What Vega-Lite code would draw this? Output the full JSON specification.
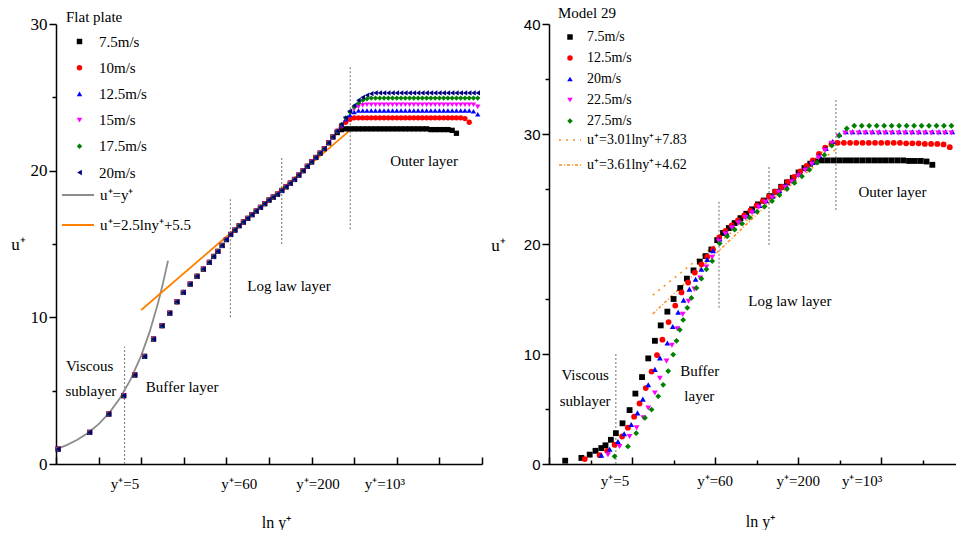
{
"$schema":"https://vega.github.io/schema/vega-lite/v6.json",
"background":"white",
"padding":{"left":10,"top":6,"right":0,"bottom":0},
"bounds":"flush",
"spacing":67,
"config":{
 "view":{"stroke":null},
 "axis":{"grid":false,"domainColor":"black","tickColor":"black","domainWidth":1.5,"tickWidth":1.5,"labelFont":"Liberation Serif","titleFont":"Liberation Serif","labelColor":"black","titleColor":"black","titleFontWeight":"normal"},
 "legend":{"titleFont":"Liberation Serif","titleFontWeight":"normal","titleColor":"black","labelFont":"Liberation Serif","labelColor":"black","padding":0,"offset":0},
 "text":{"font":"Liberation Serif","fontSize":15,"color":"black"}
},
"resolve":{"scale":{"color":"independent","shape":"independent","stroke":"independent","strokeDash":"independent","x":"independent","y":"independent"},"legend":{"color":"independent","shape":"independent","stroke":"independent","strokeDash":"independent"}},
"datasets":{
"rulesL":[{"x":1.609,"a":0,"b":8},{"x":4.094,"a":10,"b":18.06},{"x":5.298,"a":15,"b":21},{"x":6.908,"a":16,"b":27.1}],
"linesL":[
{"name":"u⁺=y⁺","x":0,"u":1},{"name":"u⁺=y⁺","x":0.25,"u":1.284},{"name":"u⁺=y⁺","x":0.5,"u":1.649},{"name":"u⁺=y⁺","x":0.75,"u":2.117},{"name":"u⁺=y⁺","x":1.0,"u":2.718},{"name":"u⁺=y⁺","x":1.25,"u":3.49},{"name":"u⁺=y⁺","x":1.5,"u":4.482},{"name":"u⁺=y⁺","x":1.75,"u":5.755},{"name":"u⁺=y⁺","x":2.0,"u":7.389},{"name":"u⁺=y⁺","x":2.2,"u":9.025},{"name":"u⁺=y⁺","x":2.4,"u":11.023},{"name":"u⁺=y⁺","x":2.5,"u":12.182},{"name":"u⁺=y⁺","x":2.63,"u":13.87},
{"name":"u⁺=2.5lny⁺+5.5","x":2.0,"u":10.5},{"name":"u⁺=2.5lny⁺+5.5","x":7.0,"u":23.0}],
"textL":[{"x":0.79,"u":6.68,"t":"Viscous"},{"x":0.82,"u":4.98,"t":"sublayer"},{"x":2.96,"u":5.25,"t":"Buffer layer"},{"x":5.47,"u":12.13,"t":"Log law layer"},{"x":8.64,"u":20.65,"t":"Outer layer"},{"x":1.62,"u":-1.36,"t":"y⁺=5"},{"x":4.3,"u":-1.36,"t":"y⁺=60"},{"x":6.15,"u":-1.36,"t":"y⁺=200"},{"x":7.72,"u":-1.36,"t":"y⁺=10³"}],
"ptsL":[
{"s":7.5,"x":0.05,"u":1.02},{"s":7.5,"x":0.79,"u":2.16},{"s":7.5,"x":1.24,"u":3.41},{"s":7.5,"x":1.59,"u":4.66},{"s":7.5,"x":1.85,"u":6.07},{"s":7.5,"x":2.08,"u":7.34},{"s":7.5,"x":2.29,"u":8.52},{"s":7.5,"x":2.49,"u":9.43},{"s":7.5,"x":2.67,"u":10.29},{"s":7.5,"x":2.84,"u":11.06},{"s":7.5,"x":2.99,"u":11.7},{"s":7.5,"x":3.15,"u":12.27},{"s":7.5,"x":3.31,"u":12.8},{"s":7.5,"x":3.46,"u":13.29},{"s":7.5,"x":3.6,"u":13.75},{"s":7.5,"x":3.7,"u":14.15},{"s":7.5,"x":3.8,"u":14.5},{"s":7.5,"x":3.9,"u":14.9},{"s":7.5,"x":4.0,"u":15.3},{"s":7.5,"x":4.1,"u":15.65},{"s":7.5,"x":4.2,"u":15.95},{"s":7.5,"x":4.3,"u":16.25},{"s":7.5,"x":4.4,"u":16.5},{"s":7.5,"x":4.5,"u":16.75},{"s":7.5,"x":4.6,"u":17.0},{"s":7.5,"x":4.7,"u":17.25},{"s":7.5,"x":4.8,"u":17.5},{"s":7.5,"x":4.9,"u":17.75},{"s":7.5,"x":5.0,"u":18.0},{"s":7.5,"x":5.1,"u":18.2},{"s":7.5,"x":5.2,"u":18.4},{"s":7.5,"x":5.3,"u":18.65},{"s":7.5,"x":5.4,"u":18.9},{"s":7.5,"x":5.5,"u":19.15},{"s":7.5,"x":5.6,"u":19.4},{"s":7.5,"x":5.7,"u":19.7},{"s":7.5,"x":5.8,"u":20.0},{"s":7.5,"x":5.9,"u":20.3},{"s":7.5,"x":6.0,"u":20.6},{"s":7.5,"x":6.1,"u":20.9},{"s":7.5,"x":6.2,"u":21.2},{"s":7.5,"x":6.3,"u":21.5},{"s":7.5,"x":6.4,"u":21.9},{"s":7.5,"x":6.5,"u":22.3},
{"s":7.5,"x":6.6,"u":22.6},{"s":7.5,"x":6.7,"u":22.8},{"s":7.5,"x":6.8,"u":22.85},{"s":7.5,"x":6.9,"u":22.85},{"s":7.5,"x":7.0,"u":22.85},{"s":7.5,"x":7.1,"u":22.85},{"s":7.5,"x":7.2,"u":22.85},{"s":7.5,"x":7.3,"u":22.85},{"s":7.5,"x":7.4,"u":22.85},{"s":7.5,"x":7.5,"u":22.85},{"s":7.5,"x":7.6,"u":22.85},{"s":7.5,"x":7.7,"u":22.85},{"s":7.5,"x":7.8,"u":22.85},{"s":7.5,"x":7.9,"u":22.85},{"s":7.5,"x":8.0,"u":22.85},{"s":7.5,"x":8.1,"u":22.85},{"s":7.5,"x":8.2,"u":22.85},{"s":7.5,"x":8.3,"u":22.85},{"s":7.5,"x":8.4,"u":22.85},{"s":7.5,"x":8.5,"u":22.85},{"s":7.5,"x":8.6,"u":22.85},{"s":7.5,"x":8.7,"u":22.85},{"s":7.5,"x":8.8,"u":22.8},{"s":7.5,"x":8.9,"u":22.8},{"s":7.5,"x":9.0,"u":22.8},{"s":7.5,"x":9.1,"u":22.8},{"s":7.5,"x":9.2,"u":22.8},{"s":7.5,"x":9.3,"u":22.75},{"s":7.5,"x":9.4,"u":22.55},
{"s":10,"x":0.05,"u":1.02},{"s":10,"x":0.79,"u":2.16},{"s":10,"x":1.24,"u":3.41},{"s":10,"x":1.59,"u":4.66},{"s":10,"x":1.85,"u":6.07},{"s":10,"x":2.08,"u":7.34},{"s":10,"x":2.29,"u":8.52},{"s":10,"x":2.49,"u":9.43},{"s":10,"x":2.67,"u":10.29},{"s":10,"x":2.84,"u":11.06},{"s":10,"x":2.99,"u":11.7},{"s":10,"x":3.15,"u":12.27},{"s":10,"x":3.31,"u":12.8},{"s":10,"x":3.46,"u":13.29},{"s":10,"x":3.6,"u":13.75},{"s":10,"x":3.7,"u":14.15},{"s":10,"x":3.8,"u":14.5},{"s":10,"x":3.9,"u":14.9},{"s":10,"x":4.0,"u":15.3},{"s":10,"x":4.1,"u":15.65},{"s":10,"x":4.2,"u":15.95},{"s":10,"x":4.3,"u":16.25},{"s":10,"x":4.4,"u":16.5},{"s":10,"x":4.5,"u":16.75},{"s":10,"x":4.6,"u":17.0},{"s":10,"x":4.7,"u":17.25},{"s":10,"x":4.8,"u":17.5},{"s":10,"x":4.9,"u":17.75},{"s":10,"x":5.0,"u":18.0},{"s":10,"x":5.1,"u":18.2},{"s":10,"x":5.2,"u":18.4},{"s":10,"x":5.3,"u":18.65},{"s":10,"x":5.4,"u":18.9},{"s":10,"x":5.5,"u":19.15},{"s":10,"x":5.6,"u":19.4},{"s":10,"x":5.7,"u":19.7},{"s":10,"x":5.8,"u":20.0},{"s":10,"x":5.9,"u":20.3},{"s":10,"x":6.0,"u":20.6},{"s":10,"x":6.1,"u":20.9},{"s":10,"x":6.2,"u":21.2},{"s":10,"x":6.3,"u":21.5},{"s":10,"x":6.4,"u":21.9},{"s":10,"x":6.5,"u":22.3},
{"s":10,"x":6.6,"u":22.7},{"s":10,"x":6.7,"u":23.05},{"s":10,"x":6.8,"u":23.3},{"s":10,"x":6.9,"u":23.5},{"s":10,"x":7.0,"u":23.6},{"s":10,"x":7.1,"u":23.6},{"s":10,"x":7.2,"u":23.6},{"s":10,"x":7.3,"u":23.6},{"s":10,"x":7.4,"u":23.6},{"s":10,"x":7.5,"u":23.6},{"s":10,"x":7.6,"u":23.6},{"s":10,"x":7.7,"u":23.6},{"s":10,"x":7.8,"u":23.6},{"s":10,"x":7.9,"u":23.6},{"s":10,"x":8.0,"u":23.6},{"s":10,"x":8.1,"u":23.6},{"s":10,"x":8.2,"u":23.6},{"s":10,"x":8.3,"u":23.6},{"s":10,"x":8.4,"u":23.6},{"s":10,"x":8.5,"u":23.6},{"s":10,"x":8.6,"u":23.6},{"s":10,"x":8.7,"u":23.6},{"s":10,"x":8.8,"u":23.6},{"s":10,"x":8.9,"u":23.6},{"s":10,"x":9.0,"u":23.6},{"s":10,"x":9.1,"u":23.6},{"s":10,"x":9.2,"u":23.6},{"s":10,"x":9.3,"u":23.6},{"s":10,"x":9.4,"u":23.6},{"s":10,"x":9.5,"u":23.6},{"s":10,"x":9.6,"u":23.55},{"s":10,"x":9.7,"u":23.3},
{"s":12.5,"x":0.05,"u":1.02},{"s":12.5,"x":0.79,"u":2.16},{"s":12.5,"x":1.24,"u":3.41},{"s":12.5,"x":1.59,"u":4.66},{"s":12.5,"x":1.85,"u":6.07},{"s":12.5,"x":2.08,"u":7.34},{"s":12.5,"x":2.29,"u":8.52},{"s":12.5,"x":2.49,"u":9.43},{"s":12.5,"x":2.67,"u":10.29},{"s":12.5,"x":2.84,"u":11.06},{"s":12.5,"x":2.99,"u":11.7},{"s":12.5,"x":3.15,"u":12.27},{"s":12.5,"x":3.31,"u":12.8},{"s":12.5,"x":3.46,"u":13.29},{"s":12.5,"x":3.6,"u":13.75},{"s":12.5,"x":3.7,"u":14.15},{"s":12.5,"x":3.8,"u":14.5},{"s":12.5,"x":3.9,"u":14.9},{"s":12.5,"x":4.0,"u":15.3},{"s":12.5,"x":4.1,"u":15.65},{"s":12.5,"x":4.2,"u":15.95},{"s":12.5,"x":4.3,"u":16.25},{"s":12.5,"x":4.4,"u":16.5},{"s":12.5,"x":4.5,"u":16.75},{"s":12.5,"x":4.6,"u":17.0},{"s":12.5,"x":4.7,"u":17.25},{"s":12.5,"x":4.8,"u":17.5},{"s":12.5,"x":4.9,"u":17.75},{"s":12.5,"x":5.0,"u":18.0},{"s":12.5,"x":5.1,"u":18.2},{"s":12.5,"x":5.2,"u":18.4},{"s":12.5,"x":5.3,"u":18.65},{"s":12.5,"x":5.4,"u":18.9},{"s":12.5,"x":5.5,"u":19.15},{"s":12.5,"x":5.6,"u":19.4},{"s":12.5,"x":5.7,"u":19.7},{"s":12.5,"x":5.8,"u":20.0},{"s":12.5,"x":5.9,"u":20.3},{"s":12.5,"x":6.0,"u":20.6},{"s":12.5,"x":6.1,"u":20.9},{"s":12.5,"x":6.2,"u":21.2},{"s":12.5,"x":6.3,"u":21.5},{"s":12.5,"x":6.4,"u":21.9},{"s":12.5,"x":6.5,"u":22.3},
{"s":12.5,"x":6.6,"u":22.7},{"s":12.5,"x":6.7,"u":23.1},{"s":12.5,"x":6.8,"u":23.5},{"s":12.5,"x":6.9,"u":23.8},{"s":12.5,"x":7.0,"u":24.0},{"s":12.5,"x":7.1,"u":24.1},{"s":12.5,"x":7.2,"u":24.1},{"s":12.5,"x":7.3,"u":24.1},{"s":12.5,"x":7.4,"u":24.1},{"s":12.5,"x":7.5,"u":24.1},{"s":12.5,"x":7.6,"u":24.1},{"s":12.5,"x":7.7,"u":24.1},{"s":12.5,"x":7.8,"u":24.1},{"s":12.5,"x":7.9,"u":24.1},{"s":12.5,"x":8.0,"u":24.1},{"s":12.5,"x":8.1,"u":24.1},{"s":12.5,"x":8.2,"u":24.1},{"s":12.5,"x":8.3,"u":24.1},{"s":12.5,"x":8.4,"u":24.1},{"s":12.5,"x":8.5,"u":24.1},{"s":12.5,"x":8.6,"u":24.1},{"s":12.5,"x":8.7,"u":24.1},{"s":12.5,"x":8.8,"u":24.1},{"s":12.5,"x":8.9,"u":24.1},{"s":12.5,"x":9.0,"u":24.1},{"s":12.5,"x":9.1,"u":24.1},{"s":12.5,"x":9.2,"u":24.1},{"s":12.5,"x":9.3,"u":24.1},{"s":12.5,"x":9.4,"u":24.1},{"s":12.5,"x":9.5,"u":24.1},{"s":12.5,"x":9.6,"u":24.1},{"s":12.5,"x":9.7,"u":24.1},{"s":12.5,"x":9.8,"u":24.05},{"s":12.5,"x":9.9,"u":23.85},
{"s":15,"x":0.05,"u":1.02},{"s":15,"x":0.79,"u":2.16},{"s":15,"x":1.24,"u":3.41},{"s":15,"x":1.59,"u":4.66},{"s":15,"x":1.85,"u":6.07},{"s":15,"x":2.08,"u":7.34},{"s":15,"x":2.29,"u":8.52},{"s":15,"x":2.49,"u":9.43},{"s":15,"x":2.67,"u":10.29},{"s":15,"x":2.84,"u":11.06},{"s":15,"x":2.99,"u":11.7},{"s":15,"x":3.15,"u":12.27},{"s":15,"x":3.31,"u":12.8},{"s":15,"x":3.46,"u":13.29},{"s":15,"x":3.6,"u":13.75},{"s":15,"x":3.7,"u":14.15},{"s":15,"x":3.8,"u":14.5},{"s":15,"x":3.9,"u":14.9},{"s":15,"x":4.0,"u":15.3},{"s":15,"x":4.1,"u":15.65},{"s":15,"x":4.2,"u":15.95},{"s":15,"x":4.3,"u":16.25},{"s":15,"x":4.4,"u":16.5},{"s":15,"x":4.5,"u":16.75},{"s":15,"x":4.6,"u":17.0},{"s":15,"x":4.7,"u":17.25},{"s":15,"x":4.8,"u":17.5},{"s":15,"x":4.9,"u":17.75},{"s":15,"x":5.0,"u":18.0},{"s":15,"x":5.1,"u":18.2},{"s":15,"x":5.2,"u":18.4},{"s":15,"x":5.3,"u":18.65},{"s":15,"x":5.4,"u":18.9},{"s":15,"x":5.5,"u":19.15},{"s":15,"x":5.6,"u":19.4},{"s":15,"x":5.7,"u":19.7},{"s":15,"x":5.8,"u":20.0},{"s":15,"x":5.9,"u":20.3},{"s":15,"x":6.0,"u":20.6},{"s":15,"x":6.1,"u":20.9},{"s":15,"x":6.2,"u":21.2},{"s":15,"x":6.3,"u":21.5},{"s":15,"x":6.4,"u":21.9},{"s":15,"x":6.5,"u":22.3},
{"s":15,"x":6.6,"u":22.7},{"s":15,"x":6.7,"u":23.1},{"s":15,"x":6.8,"u":23.55},{"s":15,"x":6.9,"u":23.95},{"s":15,"x":7.0,"u":24.2},{"s":15,"x":7.1,"u":24.35},{"s":15,"x":7.2,"u":24.45},{"s":15,"x":7.3,"u":24.5},{"s":15,"x":7.4,"u":24.5},{"s":15,"x":7.5,"u":24.5},{"s":15,"x":7.6,"u":24.5},{"s":15,"x":7.7,"u":24.5},{"s":15,"x":7.8,"u":24.5},{"s":15,"x":7.9,"u":24.5},{"s":15,"x":8.0,"u":24.5},{"s":15,"x":8.1,"u":24.5},{"s":15,"x":8.2,"u":24.5},{"s":15,"x":8.3,"u":24.5},{"s":15,"x":8.4,"u":24.5},{"s":15,"x":8.5,"u":24.5},{"s":15,"x":8.6,"u":24.5},{"s":15,"x":8.7,"u":24.5},{"s":15,"x":8.8,"u":24.5},{"s":15,"x":8.9,"u":24.5},{"s":15,"x":9.0,"u":24.5},{"s":15,"x":9.1,"u":24.5},{"s":15,"x":9.2,"u":24.5},{"s":15,"x":9.3,"u":24.5},{"s":15,"x":9.4,"u":24.5},{"s":15,"x":9.5,"u":24.5},{"s":15,"x":9.6,"u":24.5},{"s":15,"x":9.7,"u":24.5},{"s":15,"x":9.8,"u":24.5},{"s":15,"x":9.9,"u":24.35},
{"s":17.5,"x":0.05,"u":1.02},{"s":17.5,"x":0.79,"u":2.16},{"s":17.5,"x":1.24,"u":3.41},{"s":17.5,"x":1.59,"u":4.66},{"s":17.5,"x":1.85,"u":6.07},{"s":17.5,"x":2.08,"u":7.34},{"s":17.5,"x":2.29,"u":8.52},{"s":17.5,"x":2.49,"u":9.43},{"s":17.5,"x":2.67,"u":10.29},{"s":17.5,"x":2.84,"u":11.06},{"s":17.5,"x":2.99,"u":11.7},{"s":17.5,"x":3.15,"u":12.27},{"s":17.5,"x":3.31,"u":12.8},{"s":17.5,"x":3.46,"u":13.29},{"s":17.5,"x":3.6,"u":13.75},{"s":17.5,"x":3.7,"u":14.15},{"s":17.5,"x":3.8,"u":14.5},{"s":17.5,"x":3.9,"u":14.9},{"s":17.5,"x":4.0,"u":15.3},{"s":17.5,"x":4.1,"u":15.65},{"s":17.5,"x":4.2,"u":15.95},{"s":17.5,"x":4.3,"u":16.25},{"s":17.5,"x":4.4,"u":16.5},{"s":17.5,"x":4.5,"u":16.75},{"s":17.5,"x":4.6,"u":17.0},{"s":17.5,"x":4.7,"u":17.25},{"s":17.5,"x":4.8,"u":17.5},{"s":17.5,"x":4.9,"u":17.75},{"s":17.5,"x":5.0,"u":18.0},{"s":17.5,"x":5.1,"u":18.2},{"s":17.5,"x":5.2,"u":18.4},{"s":17.5,"x":5.3,"u":18.65},{"s":17.5,"x":5.4,"u":18.9},{"s":17.5,"x":5.5,"u":19.15},{"s":17.5,"x":5.6,"u":19.4},{"s":17.5,"x":5.7,"u":19.7},{"s":17.5,"x":5.8,"u":20.0},{"s":17.5,"x":5.9,"u":20.3},{"s":17.5,"x":6.0,"u":20.6},{"s":17.5,"x":6.1,"u":20.9},{"s":17.5,"x":6.2,"u":21.2},{"s":17.5,"x":6.3,"u":21.5},{"s":17.5,"x":6.4,"u":21.9},{"s":17.5,"x":6.5,"u":22.3},
{"s":17.5,"x":6.6,"u":22.7},{"s":17.5,"x":6.7,"u":23.15},{"s":17.5,"x":6.8,"u":23.6},{"s":17.5,"x":6.9,"u":24.0},{"s":17.5,"x":7.0,"u":24.35},{"s":17.5,"x":7.1,"u":24.6},{"s":17.5,"x":7.2,"u":24.8},{"s":17.5,"x":7.3,"u":24.9},{"s":17.5,"x":7.4,"u":24.95},{"s":17.5,"x":7.5,"u":24.95},{"s":17.5,"x":7.6,"u":24.95},{"s":17.5,"x":7.7,"u":24.95},{"s":17.5,"x":7.8,"u":24.95},{"s":17.5,"x":7.9,"u":24.95},{"s":17.5,"x":8.0,"u":24.95},{"s":17.5,"x":8.1,"u":24.95},{"s":17.5,"x":8.2,"u":24.95},{"s":17.5,"x":8.3,"u":24.95},{"s":17.5,"x":8.4,"u":24.95},{"s":17.5,"x":8.5,"u":24.95},{"s":17.5,"x":8.6,"u":24.95},{"s":17.5,"x":8.7,"u":24.95},{"s":17.5,"x":8.8,"u":24.95},{"s":17.5,"x":8.9,"u":24.95},{"s":17.5,"x":9.0,"u":24.95},{"s":17.5,"x":9.1,"u":24.95},{"s":17.5,"x":9.2,"u":24.95},{"s":17.5,"x":9.3,"u":24.95},{"s":17.5,"x":9.4,"u":24.95},{"s":17.5,"x":9.5,"u":24.95},{"s":17.5,"x":9.6,"u":24.95},{"s":17.5,"x":9.7,"u":24.95},{"s":17.5,"x":9.8,"u":24.95},{"s":17.5,"x":9.9,"u":24.95},
{"s":20,"x":0.05,"u":1.02},{"s":20,"x":0.79,"u":2.16},{"s":20,"x":1.24,"u":3.41},{"s":20,"x":1.59,"u":4.66},{"s":20,"x":1.85,"u":6.07},{"s":20,"x":2.08,"u":7.34},{"s":20,"x":2.29,"u":8.52},{"s":20,"x":2.49,"u":9.43},{"s":20,"x":2.67,"u":10.29},{"s":20,"x":2.84,"u":11.06},{"s":20,"x":2.99,"u":11.7},{"s":20,"x":3.15,"u":12.27},{"s":20,"x":3.31,"u":12.8},{"s":20,"x":3.46,"u":13.29},{"s":20,"x":3.6,"u":13.75},{"s":20,"x":3.7,"u":14.15},{"s":20,"x":3.8,"u":14.5},{"s":20,"x":3.9,"u":14.9},{"s":20,"x":4.0,"u":15.3},{"s":20,"x":4.1,"u":15.65},{"s":20,"x":4.2,"u":15.95},{"s":20,"x":4.3,"u":16.25},{"s":20,"x":4.4,"u":16.5},{"s":20,"x":4.5,"u":16.75},{"s":20,"x":4.6,"u":17.0},{"s":20,"x":4.7,"u":17.25},{"s":20,"x":4.8,"u":17.5},{"s":20,"x":4.9,"u":17.75},{"s":20,"x":5.0,"u":18.0},{"s":20,"x":5.1,"u":18.2},{"s":20,"x":5.2,"u":18.4},{"s":20,"x":5.3,"u":18.65},{"s":20,"x":5.4,"u":18.9},{"s":20,"x":5.5,"u":19.15},{"s":20,"x":5.6,"u":19.4},{"s":20,"x":5.7,"u":19.7},{"s":20,"x":5.8,"u":20.0},{"s":20,"x":5.9,"u":20.3},{"s":20,"x":6.0,"u":20.6},{"s":20,"x":6.1,"u":20.9},{"s":20,"x":6.2,"u":21.2},{"s":20,"x":6.3,"u":21.5},{"s":20,"x":6.4,"u":21.9},{"s":20,"x":6.5,"u":22.3},
{"s":20,"x":6.6,"u":22.7},{"s":20,"x":6.7,"u":23.15},{"s":20,"x":6.8,"u":23.6},{"s":20,"x":6.9,"u":24.05},{"s":20,"x":7.0,"u":24.45},{"s":20,"x":7.1,"u":24.8},{"s":20,"x":7.2,"u":25.0},{"s":20,"x":7.3,"u":25.15},{"s":20,"x":7.4,"u":25.25},{"s":20,"x":7.5,"u":25.3},{"s":20,"x":7.6,"u":25.3},{"s":20,"x":7.7,"u":25.3},{"s":20,"x":7.8,"u":25.3},{"s":20,"x":7.9,"u":25.3},{"s":20,"x":8.0,"u":25.3},{"s":20,"x":8.1,"u":25.3},{"s":20,"x":8.2,"u":25.3},{"s":20,"x":8.3,"u":25.3},{"s":20,"x":8.4,"u":25.3},{"s":20,"x":8.5,"u":25.3},{"s":20,"x":8.6,"u":25.3},{"s":20,"x":8.7,"u":25.3},{"s":20,"x":8.8,"u":25.3},{"s":20,"x":8.9,"u":25.3},{"s":20,"x":9.0,"u":25.3},{"s":20,"x":9.1,"u":25.3},{"s":20,"x":9.2,"u":25.3},{"s":20,"x":9.3,"u":25.3},{"s":20,"x":9.4,"u":25.3},{"s":20,"x":9.5,"u":25.3},{"s":20,"x":9.6,"u":25.3},{"s":20,"x":9.7,"u":25.3},{"s":20,"x":9.8,"u":25.3},{"s":20,"x":9.9,"u":25.3}],
"rulesR":[{"x":1.609,"a":0,"b":10.1},{"x":4.094,"a":14.2,"b":24},{"x":5.298,"a":19.9,"b":27},{"x":6.908,"a":23.1,"b":33.1}],
"linesR":[{"name":"u⁺=3.01lny⁺+7.83","x":2.5,"u":15.36},{"name":"u⁺=3.01lny⁺+7.83","x":6.9,"u":28.6},{"name":"u⁺=3.61lny⁺+4.62","x":2.5,"u":13.65},{"name":"u⁺=3.61lny⁺+4.62","x":6.9,"u":29.53}],
"textR":[{"x":0.87,"u":8.1,"t":"Viscous"},{"x":0.87,"u":5.74,"t":"sublayer"},{"x":3.63,"u":8.45,"t":"Buffer"},{"x":3.62,"u":6.2,"t":"layer"},{"x":5.8,"u":14.85,"t":"Log law layer"},{"x":8.27,"u":24.7,"t":"Outer layer"},{"x":1.59,"u":-1.55,"t":"y⁺=5"},{"x":4.0,"u":-1.55,"t":"y⁺=60"},{"x":6.0,"u":-1.55,"t":"y⁺=200"},{"x":7.54,"u":-1.55,"t":"y⁺=10³"}],
"ptsR":[
{"s":7.5,"x":0.39,"u":0.3},{"s":7.5,"x":0.78,"u":0.55},{"s":7.5,"x":0.98,"u":0.85},{"s":7.5,"x":1.12,"u":1.2},{"s":7.5,"x":1.26,"u":1.45},{"s":7.5,"x":1.36,"u":1.7},{"s":7.5,"x":1.49,"u":2.2},{"s":7.5,"x":1.61,"u":2.8},{"s":7.5,"x":1.77,"u":3.7},{"s":7.5,"x":1.94,"u":4.9},{"s":7.5,"x":2.08,"u":6.4},{"s":7.5,"x":2.24,"u":7.9},{"s":7.5,"x":2.39,"u":9.6},{"s":7.5,"x":2.55,"u":11.2},{"s":7.5,"x":2.69,"u":12.6},{"s":7.5,"x":2.85,"u":13.85},{"s":7.5,"x":3.0,"u":15.0},{"s":7.5,"x":3.16,"u":16.0},{"s":7.5,"x":3.32,"u":16.85},{"s":7.5,"x":3.48,"u":17.6},{"s":7.5,"x":3.63,"u":18.4},{"s":7.5,"x":3.77,"u":18.9},{"s":7.5,"x":3.91,"u":19.5},{"s":7.5,"x":4.05,"u":20.35},{"s":7.5,"x":4.19,"u":21.0},{"s":7.5,"x":4.33,"u":21.45},{"s":7.5,"x":4.47,"u":21.9},{"s":7.5,"x":4.61,"u":22.35},{"s":7.5,"x":4.75,"u":22.75},{"s":7.5,"x":4.89,"u":23.15},{"s":7.5,"x":5.03,"u":23.6},{"s":7.5,"x":5.17,"u":23.95},{"s":7.5,"x":5.31,"u":24.35},{"s":7.5,"x":5.45,"u":24.75},{"s":7.5,"x":5.59,"u":25.2},{"s":7.5,"x":5.73,"u":25.6},{"s":7.5,"x":5.87,"u":26.0},{"s":7.5,"x":6.01,"u":26.5},{"s":7.5,"x":6.15,"u":26.9},{"s":7.5,"x":6.29,"u":27.3},{"s":7.5,"x":6.43,"u":27.5},{"s":7.5,"x":6.57,"u":27.6},{"s":7.5,"x":6.71,"u":27.6},{"s":7.5,"x":6.85,"u":27.6},{"s":7.5,"x":6.99,"u":27.6},{"s":7.5,"x":7.13,"u":27.6},{"s":7.5,"x":7.27,"u":27.6},{"s":7.5,"x":7.41,"u":27.6},{"s":7.5,"x":7.55,"u":27.6},{"s":7.5,"x":7.69,"u":27.6},{"s":7.5,"x":7.83,"u":27.6},{"s":7.5,"x":7.97,"u":27.6},{"s":7.5,"x":8.11,"u":27.6},{"s":7.5,"x":8.25,"u":27.6},{"s":7.5,"x":8.39,"u":27.6},{"s":7.5,"x":8.53,"u":27.6},{"s":7.5,"x":8.67,"u":27.55},{"s":7.5,"x":8.81,"u":27.55},{"s":7.5,"x":8.95,"u":27.55},{"s":7.5,"x":9.09,"u":27.5},{"s":7.5,"x":9.23,"u":27.2},
{"s":12.5,"x":0.86,"u":0.45},{"s":12.5,"x":1.22,"u":0.8},{"s":12.5,"x":1.4,"u":1.2},{"s":12.5,"x":1.58,"u":1.75},{"s":12.5,"x":1.76,"u":2.5},{"s":12.5,"x":1.9,"u":3.3},{"s":12.5,"x":2.05,"u":4.3},{"s":12.5,"x":2.18,"u":5.5},{"s":12.5,"x":2.33,"u":6.9},{"s":12.5,"x":2.47,"u":8.4},{"s":12.5,"x":2.6,"u":9.9},{"s":12.5,"x":2.73,"u":11.3},{"s":12.5,"x":2.88,"u":12.9},{"s":12.5,"x":3.04,"u":14.4},{"s":12.5,"x":3.19,"u":15.6},{"s":12.5,"x":3.35,"u":16.5},{"s":12.5,"x":3.51,"u":17.4},{"s":12.5,"x":3.67,"u":18.15},{"s":12.5,"x":3.81,"u":18.85},{"s":12.5,"x":3.95,"u":19.5},{"s":12.5,"x":4.1,"u":20.6},{"s":12.5,"x":4.25,"u":21.2},{"s":12.5,"x":4.4,"u":21.7},{"s":12.5,"x":4.55,"u":22.15},{"s":12.5,"x":4.7,"u":22.6},{"s":12.5,"x":4.85,"u":23.05},{"s":12.5,"x":5.0,"u":23.5},{"s":12.5,"x":5.15,"u":23.9},{"s":12.5,"x":5.3,"u":24.3},{"s":12.5,"x":5.45,"u":24.75},{"s":12.5,"x":5.6,"u":25.2},{"s":12.5,"x":5.75,"u":25.65},{"s":12.5,"x":5.9,"u":26.1},{"s":12.5,"x":6.05,"u":26.6},{"s":12.5,"x":6.2,"u":27.1},{"s":12.5,"x":6.35,"u":27.6},{"s":12.5,"x":6.5,"u":28.2},{"s":12.5,"x":6.65,"u":28.75},{"s":12.5,"x":6.8,"u":29.1},{"s":12.5,"x":6.95,"u":29.2},{"s":12.5,"x":7.1,"u":29.2},{"s":12.5,"x":7.25,"u":29.2},{"s":12.5,"x":7.4,"u":29.2},{"s":12.5,"x":7.55,"u":29.2},{"s":12.5,"x":7.7,"u":29.2},{"s":12.5,"x":7.85,"u":29.2},{"s":12.5,"x":8.0,"u":29.2},{"s":12.5,"x":8.15,"u":29.2},{"s":12.5,"x":8.3,"u":29.2},{"s":12.5,"x":8.45,"u":29.2},{"s":12.5,"x":8.6,"u":29.15},{"s":12.5,"x":8.75,"u":29.15},{"s":12.5,"x":8.9,"u":29.15},{"s":12.5,"x":9.05,"u":29.1},{"s":12.5,"x":9.2,"u":29.1},{"s":12.5,"x":9.35,"u":29.1},{"s":12.5,"x":9.5,"u":29.05},{"s":12.5,"x":9.65,"u":28.8},
{"s":20,"x":1.26,"u":0.8},{"s":20,"x":1.46,"u":1.35},{"s":20,"x":1.66,"u":2.05},{"s":20,"x":1.81,"u":2.75},{"s":20,"x":1.98,"u":3.6},{"s":20,"x":2.13,"u":4.65},{"s":20,"x":2.26,"u":5.9},{"s":20,"x":2.39,"u":7.2},{"s":20,"x":2.55,"u":8.6},{"s":20,"x":2.67,"u":9.65},{"s":20,"x":2.85,"u":11.0},{"s":20,"x":2.98,"u":12.5},{"s":20,"x":3.11,"u":13.8},{"s":20,"x":3.24,"u":14.9},{"s":20,"x":3.38,"u":15.9},{"s":20,"x":3.53,"u":16.8},{"s":20,"x":3.67,"u":17.7},{"s":20,"x":3.81,"u":18.6},{"s":20,"x":3.95,"u":19.4},{"s":20,"x":4.11,"u":20.45},{"s":20,"x":4.27,"u":21.05},{"s":20,"x":4.43,"u":21.6},{"s":20,"x":4.59,"u":22.07},{"s":20,"x":4.75,"u":22.55},{"s":20,"x":4.91,"u":23.03},{"s":20,"x":5.07,"u":23.5},{"s":20,"x":5.23,"u":23.93},{"s":20,"x":5.39,"u":24.37},{"s":20,"x":5.55,"u":24.85},{"s":20,"x":5.71,"u":25.33},{"s":20,"x":5.87,"u":25.8},{"s":20,"x":6.03,"u":26.35},{"s":20,"x":6.19,"u":26.87},{"s":20,"x":6.35,"u":27.42},{"s":20,"x":6.51,"u":28.04},{"s":20,"x":6.67,"u":28.68},{"s":20,"x":6.83,"u":29.32},{"s":20,"x":6.99,"u":29.95},{"s":20,"x":7.15,"u":30.2},{"s":20,"x":7.31,"u":30.2},{"s":20,"x":7.47,"u":30.2},{"s":20,"x":7.63,"u":30.2},{"s":20,"x":7.79,"u":30.2},{"s":20,"x":7.95,"u":30.2},{"s":20,"x":8.11,"u":30.2},{"s":20,"x":8.27,"u":30.2},{"s":20,"x":8.43,"u":30.2},{"s":20,"x":8.59,"u":30.2},{"s":20,"x":8.75,"u":30.2},{"s":20,"x":8.91,"u":30.2},{"s":20,"x":9.07,"u":30.2},{"s":20,"x":9.23,"u":30.2},{"s":20,"x":9.39,"u":30.2},{"s":20,"x":9.55,"u":30.2},{"s":20,"x":9.71,"u":30.2},
{"s":22.5,"x":1.42,"u":0.85},{"s":22.5,"x":1.7,"u":1.6},{"s":22.5,"x":1.94,"u":2.5},{"s":22.5,"x":2.11,"u":3.3},{"s":22.5,"x":2.27,"u":4.2},{"s":22.5,"x":2.39,"u":5.1},{"s":22.5,"x":2.55,"u":6.45},{"s":22.5,"x":2.67,"u":7.8},{"s":22.5,"x":2.83,"u":9.35},{"s":22.5,"x":2.96,"u":10.8},{"s":22.5,"x":3.09,"u":12.3},{"s":22.5,"x":3.22,"u":13.6},{"s":22.5,"x":3.36,"u":14.8},{"s":22.5,"x":3.5,"u":15.9},{"s":22.5,"x":3.64,"u":16.9},{"s":22.5,"x":3.79,"u":17.9},{"s":22.5,"x":3.93,"u":18.8},{"s":22.5,"x":4.09,"u":20.25},{"s":22.5,"x":4.25,"u":20.9},{"s":22.5,"x":4.41,"u":21.45},{"s":22.5,"x":4.57,"u":21.9},{"s":22.5,"x":4.73,"u":22.4},{"s":22.5,"x":4.89,"u":22.85},{"s":22.5,"x":5.05,"u":23.35},{"s":22.5,"x":5.21,"u":23.8},{"s":22.5,"x":5.37,"u":24.2},{"s":22.5,"x":5.53,"u":24.7},{"s":22.5,"x":5.69,"u":25.15},{"s":22.5,"x":5.85,"u":25.65},{"s":22.5,"x":6.01,"u":26.2},{"s":22.5,"x":6.17,"u":26.7},{"s":22.5,"x":6.33,"u":27.25},{"s":22.5,"x":6.49,"u":27.85},{"s":22.5,"x":6.65,"u":28.5},{"s":22.5,"x":6.81,"u":29.15},{"s":22.5,"x":6.97,"u":29.8},{"s":22.5,"x":7.13,"u":30.1},{"s":22.5,"x":7.29,"u":30.1},{"s":22.5,"x":7.45,"u":30.1},{"s":22.5,"x":7.61,"u":30.1},{"s":22.5,"x":7.77,"u":30.1},{"s":22.5,"x":7.93,"u":30.1},{"s":22.5,"x":8.09,"u":30.1},{"s":22.5,"x":8.25,"u":30.1},{"s":22.5,"x":8.41,"u":30.1},{"s":22.5,"x":8.57,"u":30.1},{"s":22.5,"x":8.73,"u":30.1},{"s":22.5,"x":8.89,"u":30.1},{"s":22.5,"x":9.05,"u":30.1},{"s":22.5,"x":9.21,"u":30.1},{"s":22.5,"x":9.37,"u":30.1},{"s":22.5,"x":9.53,"u":30.1},{"s":22.5,"x":9.69,"u":30.1},
{"s":27.5,"x":1.58,"u":0.7},{"s":27.5,"x":1.9,"u":1.6},{"s":27.5,"x":2.1,"u":2.8},{"s":27.5,"x":2.31,"u":4.2},{"s":27.5,"x":2.47,"u":4.95},{"s":27.5,"x":2.63,"u":6.15},{"s":27.5,"x":2.75,"u":7.2},{"s":27.5,"x":2.87,"u":8.45},{"s":27.5,"x":2.99,"u":9.95},{"s":27.5,"x":3.07,"u":11.2},{"s":27.5,"x":3.15,"u":12.2},{"s":27.5,"x":3.23,"u":13.1},{"s":27.5,"x":3.33,"u":14.2},{"s":27.5,"x":3.43,"u":15.1},{"s":27.5,"x":3.55,"u":16.0},{"s":27.5,"x":3.67,"u":16.85},{"s":27.5,"x":3.79,"u":17.7},{"s":27.5,"x":3.93,"u":18.45},{"s":27.5,"x":4.11,"u":20.05},{"s":27.5,"x":4.29,"u":20.7},{"s":27.5,"x":4.47,"u":21.3},{"s":27.5,"x":4.65,"u":21.85},{"s":27.5,"x":4.83,"u":22.4},{"s":27.5,"x":5.01,"u":22.95},{"s":27.5,"x":5.19,"u":23.4},{"s":27.5,"x":5.37,"u":23.9},{"s":27.5,"x":5.55,"u":24.45},{"s":27.5,"x":5.73,"u":25.0},{"s":27.5,"x":5.91,"u":25.55},{"s":27.5,"x":6.09,"u":26.15},{"s":27.5,"x":6.27,"u":26.75},{"s":27.5,"x":6.45,"u":27.4},{"s":27.5,"x":6.63,"u":28.1},{"s":27.5,"x":6.81,"u":28.95},{"s":27.5,"x":6.99,"u":29.85},{"s":27.5,"x":7.17,"u":30.5},{"s":27.5,"x":7.35,"u":30.75},{"s":27.5,"x":7.53,"u":30.75},{"s":27.5,"x":7.71,"u":30.75},{"s":27.5,"x":7.89,"u":30.75},{"s":27.5,"x":8.07,"u":30.75},{"s":27.5,"x":8.25,"u":30.75},{"s":27.5,"x":8.43,"u":30.75},{"s":27.5,"x":8.61,"u":30.75},{"s":27.5,"x":8.79,"u":30.75},{"s":27.5,"x":8.97,"u":30.75},{"s":27.5,"x":9.15,"u":30.75},{"s":27.5,"x":9.33,"u":30.75},{"s":27.5,"x":9.51,"u":30.75},{"s":27.5,"x":9.69,"u":30.75}]
},
"hconcat":[
{
 "width":426,"height":440,
 "layer":[
  {"data":{"name":"rulesL"},"mark":{"type":"rule","strokeDash":[2,2],"color":"#888888","strokeWidth":1.2},
   "encoding":{
    "x":{"field":"x","type":"quantitative","scale":{"domain":[0,10],"nice":false,"zero":false},
     "axis":{"values":[0,0.5,1,1.5,2,2.5,3,3.5,4,4.5,5,5.5,6,6.5,7,7.5,8,8.5,9,9.5,10],"labels":false,"tickSize":{"condition":{"test":"datum.value % 1 === 0","value":-7},"value":-4},"title":"ln y⁺","titleFontSize":16,"titleX":220,"titleY":58,"titleAlign":"center","titleBaseline":"middle"}},
    "y":{"field":"a","type":"quantitative","scale":{"domain":[0,30],"nice":false,"zero":false},
     "axis":{"values":[0,5,10,15,20,25,30],"labelExpr":"datum.value % 10 === 0 ? datum.label : ''","tickSize":{"condition":{"test":"datum.value % 10 === 0","value":7},"value":4},"labelFontSize":17,"labelPadding":2,"title":"u⁺","titleAngle":0,"titleFontSize":17,"titleX":-38,"titleY":220,"titleAlign":"center","titleBaseline":"middle"}},
    "y2":{"field":"b"}}},
  {"data":{"name":"linesL"},"mark":{"type":"line","strokeWidth":1.8},
   "encoding":{
    "x":{"field":"x","type":"quantitative","scale":{"domain":[0,10],"nice":false,"zero":false}},
    "y":{"field":"u","type":"quantitative","scale":{"domain":[0,30],"nice":false,"zero":false}},
    "stroke":{"field":"name","type":"nominal","sort":null,"scale":{"domain":["u⁺=y⁺","u⁺=2.5lny⁺+5.5"],"range":["#8c8c8c","#ff8000"]},
     "legend":{"title":null,"orient":"none","legendX":5,"legendY":154,"symbolSize":1024,"symbolStrokeWidth":2,"labelFontSize":15,"labelOffset":5,"rowPadding":5}}}},
  {"data":{"name":"ptsL"},"mark":{"type":"point","filled":true,"size":28,"opacity":1},
   "encoding":{
    "x":{"field":"x","type":"quantitative","scale":{"domain":[0,10],"nice":false,"zero":false}},
    "y":{"field":"u","type":"quantitative","scale":{"domain":[0,30],"nice":false,"zero":false}},
    "color":{"field":"s","type":"nominal","scale":{"domain":[7.5,10,12.5,15,17.5,20],"range":["#000000","#ff0000","#0000ff","#ff00ff","#008000","#000080"]},
     "legend":{"title":"Flat plate","orient":"none","legendX":10,"legendY":-14,"labelExpr":"datum.label + 'm/s'","titleFontSize":15,"labelFontSize":15,"symbolSize":30,"symbolOffset":6,"labelOffset":12,"rowPadding":10.2,"titlePadding":9}},
    "shape":{"field":"s","type":"nominal","scale":{"domain":[7.5,10,12.5,15,17.5,20],"range":["square","circle","triangle-up","triangle-down","diamond","triangle-left"]},
     "legend":{"title":"Flat plate","orient":"none","legendX":10,"legendY":-14,"labelExpr":"datum.label + 'm/s'","titleFontSize":15,"labelFontSize":15,"symbolSize":30,"symbolOffset":6,"labelOffset":12,"rowPadding":10.2,"titlePadding":9}}}},
  {"data":{"name":"textL"},"mark":{"type":"text","align":"center","baseline":"middle"},
   "encoding":{
    "x":{"field":"x","type":"quantitative","scale":{"domain":[0,10],"nice":false,"zero":false}},
    "y":{"field":"u","type":"quantitative","scale":{"domain":[0,30],"nice":false,"zero":false}},
    "text":{"field":"t","type":"nominal"}}}
 ]
},
{
 "width":407,"height":440,
 "layer":[
  {"data":{"name":"rulesR"},"mark":{"type":"rule","strokeDash":[2,2],"color":"#888888","strokeWidth":1.2},
   "encoding":{
    "x":{"field":"x","type":"quantitative","scale":{"domain":[0,9.8],"nice":false,"zero":false},
     "axis":{"values":[0,1,2,3,4,5,6,7,8,9],"labels":false,"tickSize":{"condition":{"test":"datum.value % 2 === 0","value":-7},"value":-4},"title":"ln y⁺","titleFontSize":16,"titleX":211,"titleY":57,"titleAlign":"center","titleBaseline":"middle"}},
    "y":{"field":"a","type":"quantitative","scale":{"domain":[0,40],"nice":false,"zero":false},
     "axis":{"values":[0,5,10,15,20,25,30,35,40],"labelExpr":"datum.value % 10 === 0 ? datum.label : ''","tickSize":{"condition":{"test":"datum.value % 10 === 0","value":7},"value":4},"labelFont":"Liberation Sans","labelFontSize":15,"labelPadding":2,"title":"u⁺","titleAngle":0,"titleFontSize":17,"titleX":-51,"titleY":221,"titleAlign":"center","titleBaseline":"middle"}},
    "y2":{"field":"b"}}},
  {"data":{"name":"linesR"},"mark":{"type":"line","strokeWidth":1.5},
   "encoding":{
    "x":{"field":"x","type":"quantitative","scale":{"domain":[0,9.8],"nice":false,"zero":false}},
    "y":{"field":"u","type":"quantitative","scale":{"domain":[0,40],"nice":false,"zero":false}},
    "stroke":{"field":"name","type":"nominal","scale":{"domain":["u⁺=3.01lny⁺+7.83","u⁺=3.61lny⁺+4.62"],"range":["#ff8c1a","#ff8c1a"]},
     "legend":{"title":null,"orient":"none","legendX":9,"legendY":104,"symbolSize":484,"symbolStrokeWidth":1.5,"labelFontSize":14,"labelOffset":5,"rowPadding":6}},
    "strokeDash":{"field":"name","type":"nominal","scale":{"domain":["u⁺=3.01lny⁺+7.83","u⁺=3.61lny⁺+4.62"],"range":[[2,5],[3,2,1,2]]},
     "legend":{"title":null,"orient":"none","legendX":9,"legendY":104,"symbolSize":484,"symbolStrokeWidth":1.5,"labelFontSize":14,"labelOffset":5,"rowPadding":6}}}},
  {"data":{"name":"ptsR"},"mark":{"type":"point","filled":true,"size":34,"opacity":1},
   "encoding":{
    "x":{"field":"x","type":"quantitative","scale":{"domain":[0,9.8],"nice":false,"zero":false}},
    "y":{"field":"u","type":"quantitative","scale":{"domain":[0,40],"nice":false,"zero":false}},
    "color":{"field":"s","type":"nominal","scale":{"domain":[7.5,12.5,20,22.5,27.5],"range":["#000000","#ff0000","#0000ff","#ff00ff","#008000"]},
     "legend":{"title":"Model 29","orient":"none","legendX":9,"legendY":-18,"labelExpr":"datum.label + 'm/s'","titleFontSize":15,"labelFontSize":14,"symbolSize":30,"symbolOffset":5,"labelOffset":10,"rowPadding":7,"titlePadding":9}},
    "shape":{"field":"s","type":"nominal","scale":{"domain":[7.5,12.5,20,22.5,27.5],"range":["square","circle","triangle-up","triangle-down","diamond"]},
     "legend":{"title":"Model 29","orient":"none","legendX":9,"legendY":-18,"labelExpr":"datum.label + 'm/s'","titleFontSize":15,"labelFontSize":14,"symbolSize":30,"symbolOffset":5,"labelOffset":10,"rowPadding":7,"titlePadding":9}}}},
  {"data":{"name":"textR"},"mark":{"type":"text","align":"center","baseline":"middle"},
   "encoding":{
    "x":{"field":"x","type":"quantitative","scale":{"domain":[0,9.8],"nice":false,"zero":false}},
    "y":{"field":"u","type":"quantitative","scale":{"domain":[0,40],"nice":false,"zero":false}},
    "text":{"field":"t","type":"nominal"}}}
 ]
}
]
}
